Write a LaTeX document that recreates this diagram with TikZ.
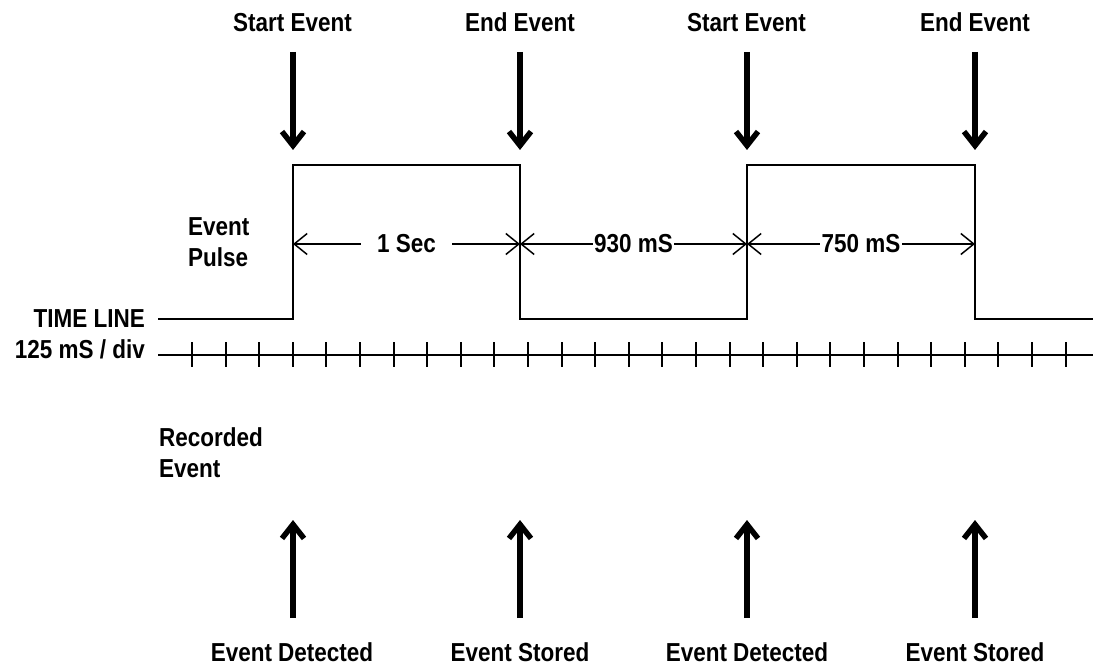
\documentclass[tikz,border=0pt]{standalone}
\usepackage{fontspec}
\setmainfont{Liberation Sans}[FakeStretch=0.865]
\usetikzlibrary{arrows.meta}
\begin{document}
\begin{tikzpicture}[x=1pt,y=-1pt,
  lbl/.style={font=\fontsize{26}{31}\selectfont\bfseries, inner sep=0pt},
  bigarrow/.style={line width=5.5pt, -{Straight Barb[length=14pt,width=22pt]}},
  dim/.style={line width=1.5pt, {Straight Barb[length=13pt,width=21pt]}-{Straight Barb[length=13pt,width=21pt]}},
  sig/.style={line width=2pt, line join=miter},
  tickmark/.style={line width=2pt}]
\useasboundingbox (0,0) rectangle (1093,666);

% labels
\node[lbl, anchor=base] (se1) at (292.5,32) {Start Event};
\node[lbl, anchor=base] (ee1) at (520,32) {End Event};
\node[lbl, anchor=base] (se2) at (746.5,32) {Start Event};
\node[lbl, anchor=base] (ee2) at (975,32) {End Event};
\node[lbl, anchor=base west, align=left] (pulse) at (188,266) {Event\\Pulse};
\node[lbl, anchor=base east] (tl) at (145,327) {TIME LINE};
\node[lbl, anchor=base east] (div) at (145,358) {125 mS / div};
\node[lbl, anchor=base west, align=left] (rec) at (159,477) {Recorded\\Event};
\node[lbl, anchor=base] (ed1) at (292,661) {Event Detected};
\node[lbl, anchor=base] (es1) at (520,661) {Event Stored};
\node[lbl, anchor=base] (ed2) at (747,661) {Event Detected};
\node[lbl, anchor=base] (es2) at (975,661) {Event Stored};

% pulse corners
\coordinate (p0) at (158,319);
\coordinate (p1) at (293,319);
\coordinate (p2) at (293,165);
\coordinate (p3) at (520,165);
\coordinate (p4) at (520,319);
\coordinate (p5) at (747,319);
\coordinate (p6) at (747,165);
\coordinate (p7) at (975,165);
\coordinate (p8) at (975,319);
\coordinate (p9) at (1093,319);
\draw[sig] (p0) -- (p1) -- (p2) -- (p3) -- (p4) -- (p5) -- (p6) -- (p7) -- (p8) -- (p9);

% time line with ticks
\coordinate (t0) at (158,355);
\coordinate (t1) at (1093,355);
\draw[tickmark] (t0) -- (t1);
\foreach \k in {0,...,26}
  \draw[tickmark] ({192+33.6*\k},342) -- ({192+33.6*\k},367);

% dimension arrows
\coordinate (a0) at (293,244);
\coordinate (a1) at (520,244);
\coordinate (a2) at (747,244);
\coordinate (a3) at (975,244);
\draw[dim] (a0) -- node[lbl, fill=white, inner xsep=16pt] (d1) {1 Sec} (a1);
\draw[dim] (a1) -- node[lbl, fill=white, inner xsep=1pt] (d2) {930 mS} (a2);
\draw[dim] (a2) -- node[lbl, fill=white, inner xsep=2pt] (d3) {750 mS} (a3);

% event arrows (top)
\coordinate (u1) at (293,52);  \coordinate (v1) at (293,150);
\coordinate (u2) at (520,52);  \coordinate (v2) at (520,150);
\coordinate (u3) at (747,52);  \coordinate (v3) at (747,150);
\coordinate (u4) at (975,52);  \coordinate (v4) at (975,150);
\draw[bigarrow] (u1) -- (v1);
\draw[bigarrow] (u2) -- (v2);
\draw[bigarrow] (u3) -- (v3);
\draw[bigarrow] (u4) -- (v4);

% recorded arrows (bottom)
\coordinate (b1) at (293,618);  \coordinate (c1) at (293,520);
\coordinate (b2) at (520,618);  \coordinate (c2) at (520,520);
\coordinate (b3) at (747,618);  \coordinate (c3) at (747,520);
\coordinate (b4) at (975,618);  \coordinate (c4) at (975,520);
\draw[bigarrow] (b1) -- (c1);
\draw[bigarrow] (b2) -- (c2);
\draw[bigarrow] (b3) -- (c3);
\draw[bigarrow] (b4) -- (c4);
\end{tikzpicture}
\end{document}
